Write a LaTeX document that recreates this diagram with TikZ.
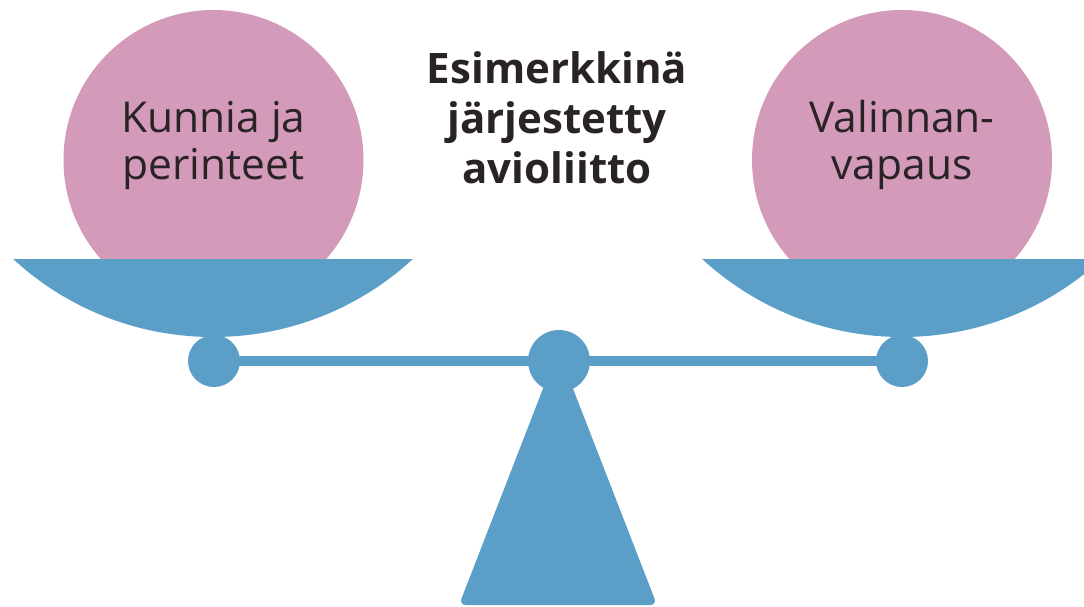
\documentclass[tikz,border=0pt]{standalone}
\usepackage{fontspec}
\setmainfont{Open Sans}
\definecolor{ballpink}{HTML}{D39AB9}
\definecolor{scaleblue}{HTML}{5B9FC9}
\definecolor{inkdark}{HTML}{2A2326}
\tikzset{
  ball/.style={circle, fill=ballpink, minimum size=300pt, inner sep=0pt},
  joint/.style={circle, fill=scaleblue, minimum size=52pt, inner sep=0pt},
  pivot/.style={circle, fill=scaleblue, minimum size=62pt, inner sep=0pt},
  balltext/.style={align=center, text=inkdark, font=\fontsize{42.5}{47}\selectfont},
  titletext/.style={align=center, text=inkdark, font=\bfseries\fontsize{42}{50}\selectfont},
  beam/.style={draw=scaleblue, line width=10pt}
}
\begin{document}
\begin{tikzpicture}[x=1pt,y=-1pt]
\useasboundingbox (0,0) rectangle (1084,606);
% balls
\node[ball] (lball) at (213.5,160) {};
\node[ball] (rball) at (902,160) {};
% stand
\fill[scaleblue, rounded corners=7pt] (558,350) -- (459,605) -- (657,605) -- cycle;
% joints and beam
\node[joint] (lj) at (214,361) {};
\node[joint] (rj) at (902,361) {};
\draw[beam] (lj.center) -- (rj.center);
\node[pivot] (pv) at (559,361) {};
% pans
\begin{scope}
\clip (0,259) rectangle (1084,606);
\fill[scaleblue] (213,42) circle[radius=295];
\fill[scaleblue] (902,42) circle[radius=295];
\end{scope}
% texts
\node[balltext] (ltext) at (213.5,146) {Kunnia ja\\perinteet};
\node[balltext] (rtext) at (902,145) {Valinnan-\\vapaus};
\node[titletext] (title) at (557,118) {Esimerkkinä\\järjestetty\\avioliitto};
\end{tikzpicture}
\end{document}
